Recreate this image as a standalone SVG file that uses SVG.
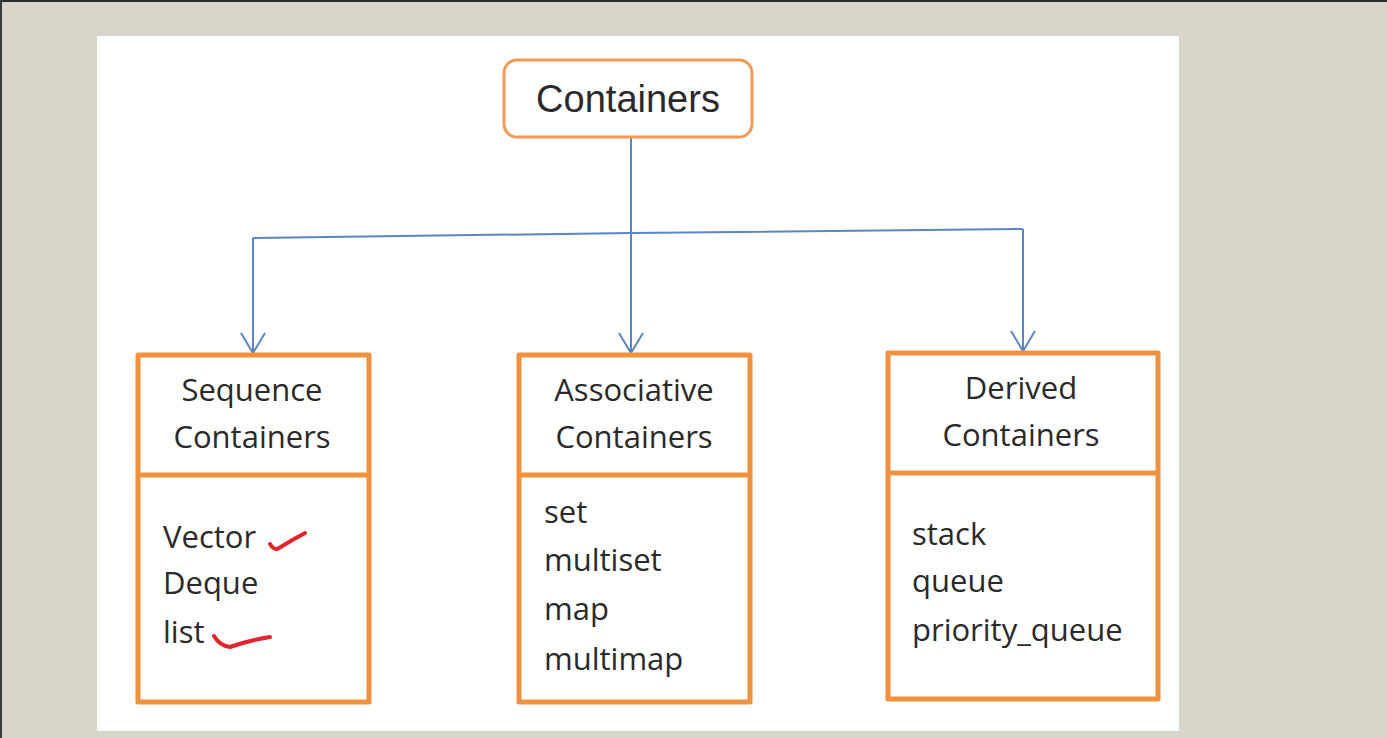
<svg xmlns="http://www.w3.org/2000/svg" width="1387" height="738" viewBox="0 0 1387 738">
<defs>
<style>
.title{font-family:"Open Sans","Liberation Sans",sans-serif;font-size:31px;fill:#2a2a2a;text-anchor:middle}
.item{font-family:"Open Sans","Liberation Sans",sans-serif;font-size:31px;fill:#2a2a2a}
.box{fill:#ffffff;stroke:#f0913f;stroke-width:5;stroke-linejoin:round}
.div{stroke:#f0913f;stroke-width:5}
.conn{fill:none;stroke:#5b86c4;stroke-width:2}
.check{fill:none;stroke:#e3242b;stroke-width:4;stroke-linecap:round;stroke-linejoin:round}
</style>
</defs>
<rect x="0" y="0" width="1387" height="738" fill="#d8d6ca"/>
<rect x="0" y="0" width="1387" height="2" fill="#2e2e2e"/>
<rect x="0" y="0" width="2" height="738" fill="#3a3a3a"/>
<rect x="97" y="36" width="1082" height="695" fill="#ffffff"/>

<g id="connectors">
<line class="conn" x1="631" y1="138" x2="631" y2="233"/>
<polyline class="conn" points="253,238 631,233 1023,229"/>
<path class="conn" d="M253,238 L253,352"/>
<path class="conn" d="M631,233 L631,352"/>
<path class="conn" d="M1023,229 L1023,350"/>
<path class="conn" d="M241,333 L253,353 L265,333"/>
<path class="conn" d="M619,333 L631,353 L643,333"/>
<path class="conn" d="M1011,331 L1023,351 L1035,331"/>
</g>

<g id="root">
<rect x="504" y="60" width="248" height="77" rx="13" ry="13" fill="#ffffff" stroke="#f09a5a" stroke-width="3"/>
<text x="628" y="112" font-family="Liberation Sans, Arial, sans-serif" font-size="38" fill="#2a2a2a" text-anchor="middle">Containers</text>
</g>

<g id="sequence">
<rect class="box" x="138" y="355" width="231" height="347"/>
<line class="div" x1="138" y1="475" x2="369" y2="475"/>
<text class="title" x="252" y="401">Sequence</text>
<text class="title" x="252" y="448">Containers</text>
<text class="item" x="163" y="548">Vector</text>
<text class="item" x="163" y="594">Deque</text>
<text class="item" x="163" y="643">list</text>
<path class="check" d="M270,544 Q274,551 279,548 Q292,540 305,533"/>
<path class="check" d="M214,636 Q220,646 230,647 Q250,640 270,637"/>
</g>

<g id="associative">
<rect class="box" x="519" y="355" width="231" height="347"/>
<line class="div" x1="519" y1="475" x2="750" y2="475"/>
<text class="title" x="634" y="401">Associative</text>
<text class="title" x="634" y="448">Containers</text>
<text class="item" x="544" y="523">set</text>
<text class="item" x="544" y="571">multiset</text>
<text class="item" x="544" y="620">map</text>
<text class="item" x="544" y="670">multimap</text>
</g>

<g id="derived">
<rect class="box" x="888" y="353" width="270" height="346"/>
<line class="div" x1="888" y1="473" x2="1158" y2="473"/>
<text class="title" x="1021" y="399">Derived</text>
<text class="title" x="1021" y="446">Containers</text>
<text class="item" x="912" y="545">stack</text>
<text class="item" x="912" y="592">queue</text>
<text class="item" x="912" y="641">priority_queue</text>
</g>
</svg>
